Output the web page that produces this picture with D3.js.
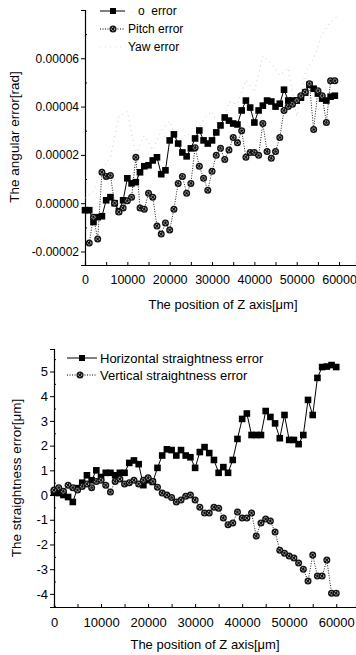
<!DOCTYPE html>
<html>
<head>
<meta charset="utf-8">
<script src="https://cdn.jsdelivr.net/npm/d3@7"></script>
<style>
  body { margin: 0; background: #fff; }
  svg { display: block; font-family: "Liberation Sans", Arial, sans-serif; }
  text { fill: #000; white-space: pre; }
</style>
</head>
<body>
<svg id="chart" width="356" height="655"></svg>
<script>
// ---- top chart data (angular error, units of 1e-5 rad) ----
var rollX = d3.range(0, 60000, 1000);
var rollErr = [-0.29, -0.29, -0.78, -0.58, -0.54, 0.12, 0.25, 0, -0.33, 0.12,
  1.03, 0.82, 0.87, 1.28, 1.53, 1.57, 1.77, 1.9, 1.2, 1.36,
  2.6, 2.85, 2.47, 2.1, 1.94, 2.27, 2.68, 3.01, 2.6, 2.47,
  2.6, 2.93, 3.22, 3.55, 3.42, 3.3, 3.26, 3.84, 4.25, 3.96,
  3.34, 3.84, 4.04, 4.25, 4.21, 4.0, 4.12, 4.7, 4.25, 4.25,
  4.25, 4.37, 4.58, 4.9, 4.74, 4.54, 4.33, 4.25, 4.41, 4.45];
var pitchX = d3.range(1000, 60000, 1000);
var pitchErr = [-1.65, -0.58, -1.48, 1.28, 1.11, 1.15, 0, -0.37, -0.2, 0.1,
  0.25, 1.9, -0.2, -0.25, 0.41, 0.25, -0.95, -1.28, -0.82, -1.11,
  -0.25, 0.82, 1.11, 0.41, 0.82, 2.3, 1.53, 1.03, 0.54, 1.32,
  1.98, 2.27, 1.81, 2.2, 2.72, 2.5, 3.0, 1.9, 2.1, 2.1,
  1.98, 3.3, 2.14, 1.86, 2.14, 2.72, 3.84, 4.0, 4.1, 4.25,
  4.45, 4.6, 4.95, 3.05, 4.66, 4.45, 3.34, 5.07, 5.07];
var yawX = d3.range(0, 62000, 2000);
var yawErr = [0.2, 0.5, 1.4, 1.9, 3.6, 3.8, 2.0, 2.8, 2.2, 3.0,
  3.4, 2.5, 2.9, 2.6, 3.5, 3.8, 2.9, 4.2, 4.1, 5.1,
  4.6, 6.1, 5.8, 5.3, 5.6, 3.6, 5.4, 6.0, 7.0, 7.5, 7.8];
var topYTicks = [-2, 0, 2, 4, 6];
var topYLabels = ["-0.00002", "0.00000", "0.00002", "0.00004", "0.00006"];
var xTicks = [0, 10000, 20000, 30000, 40000, 50000, 60000];

// ---- bottom chart data (straightness error, um) ----
var straightX = d3.range(0, 61000, 1000);
var horizErr = [0.1, 0.08, 0, -0.08, -0.28, 0.28, 0.5, 0.8, 0.6, 1.0,
  0.73, 0.9, 0.9, 0.8, 0.9, 0.9, 1.3, 1.4, 1.25, 0.4,
  0.6, 0.53, 1.1, 1.6, 1.85, 1.82, 1.6, 1.82, 1.6, 1.53,
  1.1, 1.74, 1.94, 1.7, 1.42, 0.9, 1.13, 0.9, 1.42, 2.27,
  3.08, 3.3, 2.43, 2.43, 2.43, 3.4, 3.16, 2.9, 2.3, 3.24,
  2.23, 2.23, 2.06, 2.43, 3.85, 3.24, 4.74, 5.18, 5.2, 5.26, 5.18];
var vertErr = [0.2, 0.3, 0.15, 0.4, 0.3, 0.2, 0.35, 0.45, 0.3, 0.55,
  0.6, 0.4, 0.12, 0.55, 0.65, 0.45, 0.5, 0.6, 0.45, 0.6,
  0.7, 0.55, 0.32, 0.08, 0.0, -0.1, -0.28, -0.2, -0.05, 0,
  -0.2, -0.49, -0.73, -0.73, -0.49, -0.53, -0.93, -1.2, -1.13, -0.69,
  -0.93, -0.93, -0.73, -1.66, -1.13, -0.97, -1.05, -1.5, -2.23, -2.35,
  -2.47, -2.55, -2.75, -3.0, -3.48, -2.43, -3.28, -3.28, -2.63, -3.97, -3.97];
var botYTicks = [-4, -3, -2, -1, 0, 1, 2, 3, 4, 5];

var svg = d3.select("#chart");
var fmtInt = d3.format("d");

function squareMarks(g, xs, ys, x, y) {
  g.selectAll(null).data(ys).enter().append("rect")
    .attr("x", function(d, i) { return x(xs[i]) - 3.3; })
    .attr("y", function(d) { return y(d) - 3.3; })
    .attr("width", 6.6).attr("height", 6.6)
    .attr("fill", "#000");
}

function circleMarks(g, xs, ys, x, y) {
  var c = g.selectAll(null).data(ys).enter().append("g")
    .attr("transform", function(d, i) { return "translate(" + x(xs[i]) + "," + y(d) + ")"; });
  c.append("circle").attr("r", 3.5).attr("fill", "#111");
  c.append("circle").attr("r", 1.7).attr("fill", "none")
    .attr("stroke", "#fff").attr("stroke-width", 0.8).attr("stroke-dasharray", "1.2,0.8");
}

function drawLine(g, xs, ys, x, y, dash, color, w) {
  var line = d3.line().x(function(d, i) { return x(xs[i]); }).y(function(d) { return y(d); });
  g.append("path").datum(ys).attr("d", line)
    .attr("fill", "none").attr("stroke", color).attr("stroke-width", w)
    .attr("stroke-dasharray", dash);
}

// ================= TOP CHART =================
var xTop = d3.scaleLinear().domain([0, 64000]).range([85, 356]);
var yTop = d3.scaleLinear().domain([-2.56, 8.0]).range([265, 10]);
var topG = svg.append("g");

topG.append("g").attr("transform", "translate(0,265)")
  .call(d3.axisBottom(xTop).tickValues(d3.range(0, 64000, 5000)).tickSize(-3).tickFormat(""))
  .call(function(a) { a.select(".domain").attr("stroke-width", 1.2); });
topG.append("g").attr("transform", "translate(0,265)")
  .call(d3.axisBottom(xTop).tickValues(xTicks).tickSize(0).tickPadding(8).tickFormat(fmtInt))
  .call(function(a) {
    a.select(".domain").remove();
    a.selectAll("text").attr("font-size", 12.5).attr("font-family", "Liberation Sans, Arial").attr("dy", "0.9em");
  });
topG.append("g").attr("transform", "translate(85,0)")
  .call(d3.axisLeft(yTop).tickValues(topYTicks).tickSize(4).tickPadding(2)
    .tickFormat(function(d, i) { return topYLabels[i]; }))
  .call(function(a) {
    a.select(".domain").attr("stroke-width", 1.2);
    a.selectAll("text").attr("font-size", 12).attr("font-family", "Liberation Sans, Arial");
  });
topG.append("g").attr("transform", "translate(85,0)")
  .call(d3.axisRight(yTop).tickValues([-1, 1, 3, 5, 7]).tickSize(2).tickFormat(""))
  .call(function(a) { a.select(".domain").remove(); });

var topPlot = topG.append("g");
drawLine(topPlot, yawX, yawErr, xTop, yTop, "1,4", "#bbb", 0.8);
drawLine(topPlot, pitchX, pitchErr, xTop, yTop, "1,1.5", "#000", 0.9);
drawLine(topPlot, rollX, rollErr, xTop, yTop, null, "#000", 1);
squareMarks(topPlot, rollX, rollErr, xTop, yTop);
circleMarks(topPlot, pitchX, pitchErr, xTop, yTop);

// legend
var lg = topG.append("g");
lg.append("line").attr("x1", 100).attr("x2", 125).attr("y1", 11).attr("y2", 11).attr("stroke", "#000");
lg.append("rect").attr("x", 110).attr("y", 8).attr("width", 6).attr("height", 6).attr("fill", "#000");
lg.append("text").attr("x", 138).attr("y", 15).attr("font-size", 12).text("o  error");
lg.append("line").attr("x1", 100).attr("x2", 125).attr("y1", 29).attr("y2", 29)
  .attr("stroke", "#000").attr("stroke-dasharray", "1,1.5");
circleMarks(lg, [0], [0], function() { return 113; }, function() { return 29; });
lg.append("text").attr("x", 128).attr("y", 33).attr("font-size", 12).text("Pitch error");
lg.append("line").attr("x1", 100).attr("x2", 125).attr("y1", 47).attr("y2", 47)
  .attr("stroke", "#ddd").attr("stroke-dasharray", "1,4");
lg.append("text").attr("x", 128).attr("y", 51).attr("font-size", 12).text("Yaw error");

topG.append("text").attr("x", 223).attr("y", 309).attr("text-anchor", "middle")
  .attr("font-size", 13).text("The position of Z axis[\u03bcm]");
topG.append("text").attr("transform", "translate(19,137) rotate(-90)").attr("text-anchor", "middle")
  .attr("font-size", 13.5).text("The angular error[rad]");

// ================= BOTTOM CHART =================
var xBot = d3.scaleLinear().domain([0, 64200]).range([54, 356]);
var yBot = d3.scaleLinear().domain([-4.53, 5.91]).range([607, 349]);
var botG = svg.append("g");

botG.append("g").attr("transform", "translate(0,607)")
  .call(d3.axisBottom(xBot).tickValues(d3.range(0, 64200, 5000)).tickSize(-3).tickFormat(""))
  .call(function(a) { a.select(".domain").attr("stroke-width", 1.2); });
botG.append("g").attr("transform", "translate(0,607)")
  .call(d3.axisBottom(xBot).tickValues(xTicks).tickSize(0).tickPadding(8).tickFormat(fmtInt))
  .call(function(a) {
    a.select(".domain").remove();
    a.selectAll("text").attr("font-size", 13).attr("font-family", "Liberation Sans, Arial").attr("dy", "0.9em");
  });
botG.append("g").attr("transform", "translate(54,0)")
  .call(d3.axisLeft(yBot).tickValues(botYTicks).tickSize(4).tickPadding(2)
    .tickFormat(function(d) { return String(d).replace("\u2212", "-"); }))
  .call(function(a) {
    a.select(".domain").attr("stroke-width", 1.2);
    a.selectAll("text").attr("font-size", 13).attr("font-family", "Liberation Sans, Arial");
  });
botG.append("g").attr("transform", "translate(54,0)")
  .call(d3.axisRight(yBot).tickValues([-4.5, -3.5, -2.5, -1.5, -0.5, 0.5, 1.5, 2.5, 3.5, 4.5, 5.5]).tickSize(2).tickFormat(""))
  .call(function(a) { a.select(".domain").remove(); });

var botPlot = botG.append("g");
drawLine(botPlot, straightX, vertErr, xBot, yBot, "1,1.5", "#000", 0.9);
drawLine(botPlot, straightX, horizErr, xBot, yBot, null, "#000", 1);
squareMarks(botPlot, straightX, horizErr, xBot, yBot);
circleMarks(botPlot, straightX, vertErr, xBot, yBot);

var lb = botG.append("g");
lb.append("line").attr("x1", 67).attr("x2", 97).attr("y1", 358).attr("y2", 358).attr("stroke", "#000");
lb.append("rect").attr("x", 79).attr("y", 355).attr("width", 6).attr("height", 6).attr("fill", "#000");
lb.append("text").attr("x", 100).attr("y", 362.5).attr("font-size", 13).text("Horizontal straightness error");
lb.append("line").attr("x1", 67).attr("x2", 97).attr("y1", 375).attr("y2", 375)
  .attr("stroke", "#000").attr("stroke-dasharray", "1,1.5");
circleMarks(lb, [0], [0], function() { return 80; }, function() { return 375; });
lb.append("text").attr("x", 100).attr("y", 379.5).attr("font-size", 13).text("Vertical straightness error");

botG.append("text").attr("x", 205).attr("y", 649).attr("text-anchor", "middle")
  .attr("font-size", 13).text("The position of Z axis[\u03bcm]");
botG.append("text").attr("transform", "translate(21,478) rotate(-90)").attr("text-anchor", "middle")
  .attr("font-size", 13.5).text("The straightness error[\u03bcm]");
</script>
</body>
</html>
